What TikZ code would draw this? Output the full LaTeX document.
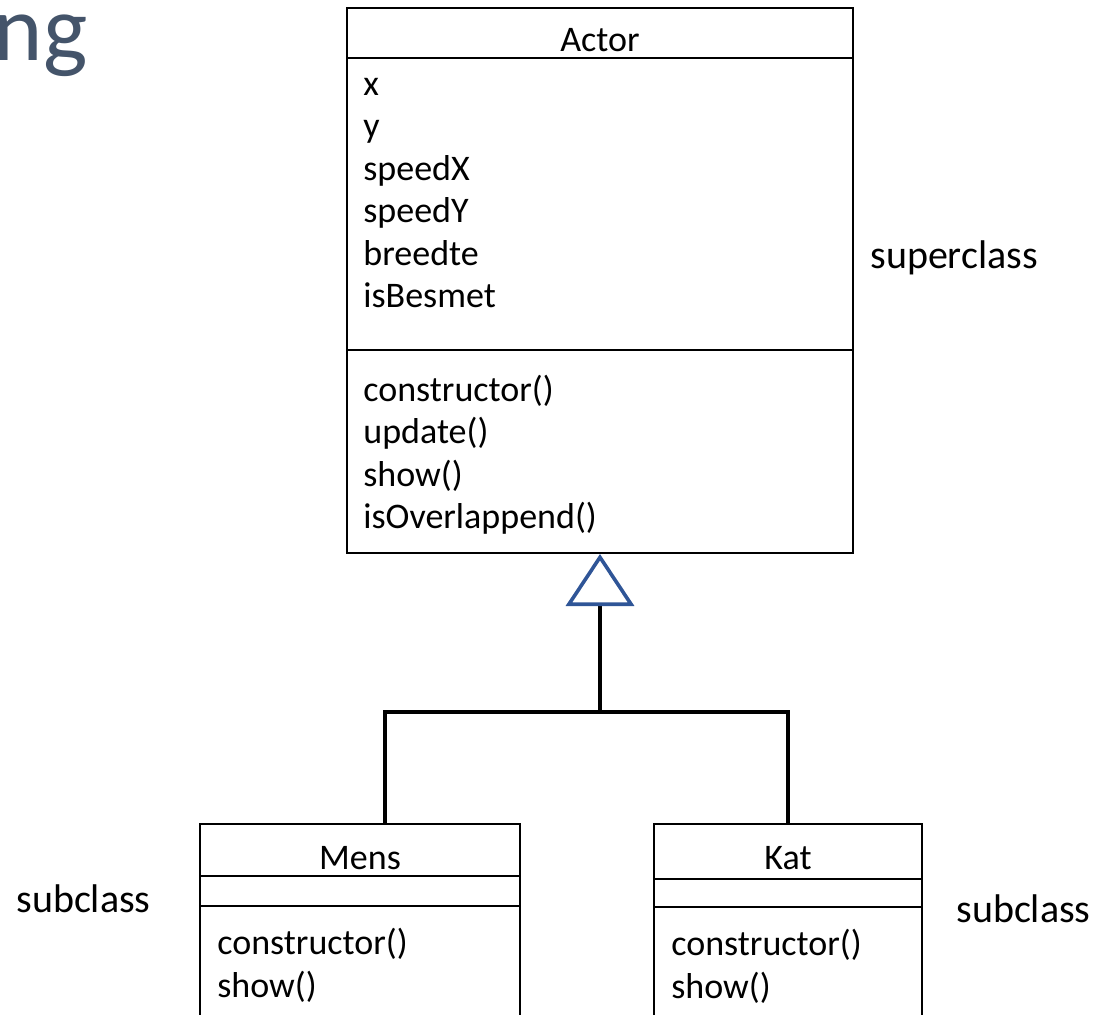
\documentclass[tikz,border=0pt]{standalone}
\usepackage{fontspec}
\setmainfont{Carlito}
\usepackage{tikz}
\usetikzlibrary{arrows.meta,positioning}
\definecolor{titleink}{HTML}{44546A}
\definecolor{inherit}{HTML}{2F5597}
\tikzset{
  classbox/.style={draw=black, line width=1pt, fill=white, inner sep=0pt},
  rule/.style={draw=black, line width=1pt},
  member/.style={font=\fontsize{18}{21}\selectfont, inner sep=0pt},
  note/.style={font=\fontsize{20}{24}\selectfont, inner sep=0pt},
  heading/.style={font=\fontsize{47}{56}\selectfont, text=titleink, inner sep=0pt},
  tree/.style={draw=black, line width=2pt},
  gen/.style={-{Triangle[open, length=26pt, width=34pt, line width=1.8pt, color=inherit]}},
}
\begin{document}
\begin{tikzpicture}[x=0.5pt, y=-0.5pt]
  \useasboundingbox (0,0) rectangle (1097,1015);
  \clip (0,0) rectangle (1097,1015);
  \node[heading, anchor=base east] (title) at (88,61) {ng};
  % superclass
  \node[classbox, minimum width=253pt, minimum height=272.5pt] (actor) at (600,280.5) {};
  \draw[rule] (actor.west |- 0,58) -- (actor.east |- 0,58);
  \draw[rule] (actor.west |- 0,350) -- (actor.east |- 0,350);
  \node[member, anchor=base] (actorname) at (600,52) {Actor};
  \foreach \a [count=\i] in {x,y,speedX,speedY,breedte,isBesmet}
    \node[member, anchor=base west] (attr\i) at (363,53+42.5*\i) {\a};
  \foreach \m [count=\i] in {{constructor()},{update()},{show()},{isOverlappend()}}
    \node[member, anchor=base west] (meth\i) at (363,359+42.5*\i) {\m};
  \node[note, anchor=base west] (superlbl) at (870,269) {superclass};
  % subclasses
  \node[classbox, minimum width=160pt, minimum height=103pt] (mens) at (360,927) {};
  \draw[rule] (mens.west |- 0,876) -- (mens.east |- 0,876);
  \draw[rule] (mens.west |- 0,906) -- (mens.east |- 0,906);
  \node[member, anchor=base] (mensname) at (360,869) {Mens};
  \node[member, anchor=base west] (mensm1) at (217,954) {constructor()};
  \node[member, anchor=base west] (mensm2) at (217,997) {show()};
  \node[note, anchor=base west] (menslbl) at (16,912) {subclass};
  \node[classbox, minimum width=134pt, minimum height=103pt] (kat) at (788,927) {};
  \draw[rule] (kat.west |- 0,879) -- (kat.east |- 0,879);
  \draw[rule] (kat.west |- 0,907) -- (kat.east |- 0,907);
  \node[member, anchor=base] (katname) at (788,869) {Kat};
  \node[member, anchor=base west] (katm1) at (671,955) {constructor()};
  \node[member, anchor=base west] (katm2) at (671,998) {show()};
  \node[note, anchor=base west] (katlbl) at (956,922) {subclass};
  % inheritance
  \coordinate (hub) at (600,712);
  \draw[tree] ([xshift=12.5pt]mens.north) |- (hub);
  \draw[tree] (kat.north) |- (hub);
  \draw[tree, gen] (hub) -- (actor.south);
\end{tikzpicture}
\end{document}
